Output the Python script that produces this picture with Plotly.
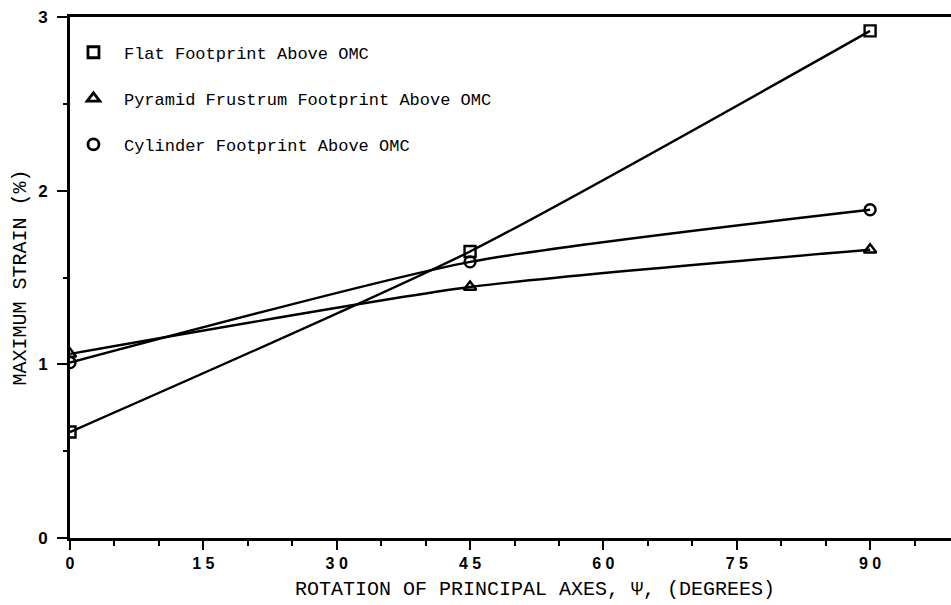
import plotly.graph_objects as go

# Rotation of principal axes (degrees)
rotation_deg = [0, 45, 90]

# Maximum strain (%) for each footprint shape, above OMC
flat_strain = [0.61, 1.65, 2.92]
pyramid_strain = [1.06, 1.445, 1.66]
cylinder_strain = [1.01, 1.59, 1.89]

series_names = [
    "Flat Footprint Above OMC",
    "Pyramid Frustrum Footprint Above OMC",
    "Cylinder Footprint Above OMC",
]
series_values = [flat_strain, pyramid_strain, cylinder_strain]
series_symbols = ["square-open", "triangle-up-open", "circle-open"]

x_ticks = [0, 15, 30, 45, 60, 75, 90]
y_ticks = [0, 1, 2, 3]

MONO = "Liberation Mono"
TICK_FONT = dict(family="Liberation Sans", size=16, color="black", weight="bold")

fig = go.Figure()

for name, vals, sym in zip(series_names, series_values, series_symbols):
    fig.add_trace(go.Scatter(
        x=rotation_deg, y=vals,
        mode="lines+markers",
        line=dict(color="black", width=2.4, shape="spline", smoothing=0.6),
        marker=dict(symbol=sym, size=11, color="black",
                    line=dict(color="black", width=2.4)),
        showlegend=False,
        cliponaxis=True,
    ))

# Marker-only legend entries
for i, (name, sym) in enumerate(zip(series_names, series_symbols)):
    fig.add_trace(go.Scatter(
        x=[None], y=[None], mode="markers", name=name,
        legendgroup=f"g{i}",
        marker=dict(symbol=sym, size=11, color="black",
                    line=dict(color="black", width=2.8)),
    ))

fig.update_layout(
    width=951, height=605,
    margin=dict(l=70, r=0, t=17, b=67),
    paper_bgcolor="white", plot_bgcolor="white",
    showlegend=True,
    legend=dict(
        x=-0.008, y=0.966, xanchor="left", yanchor="top",
        bgcolor="rgba(0,0,0,0)",
        font=dict(family=MONO, size=17, color="black"),
        tracegroupgap=21,
        traceorder="grouped",
        itemwidth=51,
    ),
    xaxis=dict(
        range=[0, 99.1],
        tickmode="array", tickvals=x_ticks,
        ticktext=[" ".join(str(v)) for v in x_ticks],
        ticks="outside", ticklen=9, tickwidth=2, tickcolor="black",
        minor=dict(dtick=5, tick0=0, ticks="outside", ticklen=5,
                   tickwidth=2, tickcolor="black"),
        showline=True, linecolor="black", linewidth=2.8, mirror=True,
        showgrid=False, zeroline=False,
        tickfont=TICK_FONT,
    ),
    yaxis=dict(
        range=[0, 3],
        tickmode="array", tickvals=y_ticks,
        ticks="outside", ticklen=10, tickwidth=2, tickcolor="black",
        ticklabelstandoff=6,
        minor=dict(dtick=0.5, tick0=0, ticks="outside", ticklen=4,
                   tickwidth=2, tickcolor="black"),
        showline=True, linecolor="black", linewidth=2.8, mirror=False,
        showgrid=False, zeroline=False,
        tickfont=dict(family="Liberation Sans", size=17, color="black",
                      weight="bold"),
        title=dict(text="MAXIMUM STRAIN (%)",
                   font=dict(family=MONO, size=20, color="black"),
                   standoff=7),
    ),
    annotations=[dict(
        text="ROTATION OF PRINCIPAL AXES, Ψ, (DEGREES)",
        xref="paper", yref="paper", x=0.528, y=-0.098,
        xanchor="center", yanchor="middle", showarrow=False,
        font=dict(family=MONO, size=20, color="black"),
    )],
)

fig.write_html("out.html")
